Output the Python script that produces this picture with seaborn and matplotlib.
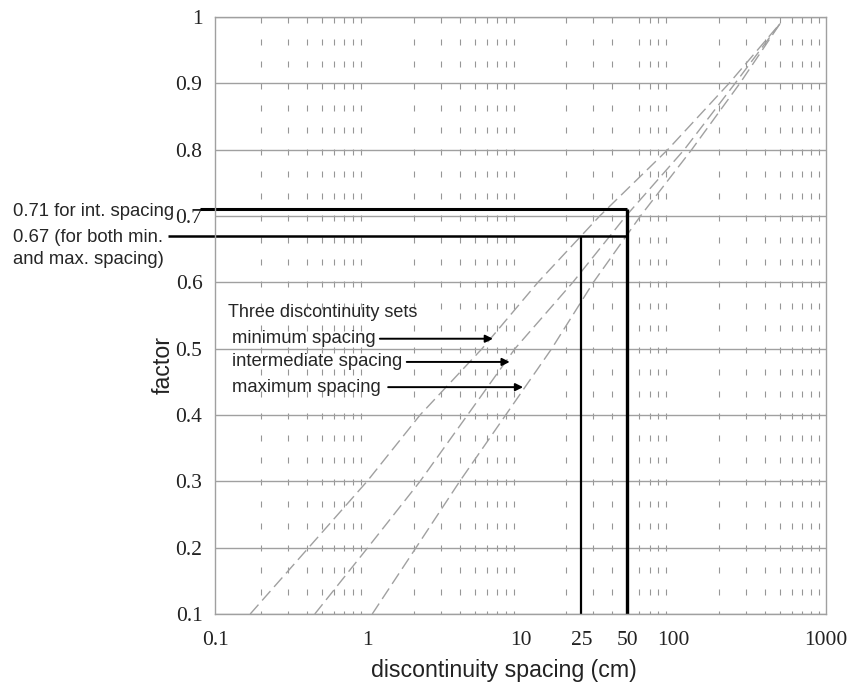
import matplotlib
matplotlib.use("Agg")
import matplotlib.pyplot as plt
from matplotlib.ticker import FixedLocator, FixedFormatter, NullFormatter, LogLocator
import pandas as pd
import seaborn as sns

# values
factor = [0.1, 0.2, 0.3, 0.4, 0.5, 0.6, 0.7, 0.8, 0.9, 0.99]
min_spacing = [0.17, 0.41, 0.99, 2.2, 5.6, 13, 33, 92, 232, 500]
int_spacing = [0.45, 1.0, 2.2, 4.5, 9.2, 22, 49, 118, 254, 500]
max_spacing = [1.07, 2.07, 4.0, 8.0, 16, 30, 61, 132, 273, 500]

xtick_vals = [0.1, 1, 10, 25, 50, 100, 1000]
xtick_labels = ["0.1", "1", "10", "25", "50", "100", "1000"]
ytick_vals = [0.1, 0.2, 0.3, 0.4, 0.5, 0.6, 0.7, 0.8, 0.9, 1.0]
ytick_labels = ["0.1", "0.2", "0.3", "0.4", "0.5", "0.6", "0.7", "0.8", "0.9", "1"]

# readings marked on the chart
read_x = [25, 50]
read_y = [0.67, 0.71]

df = pd.DataFrame({
    "spacing": min_spacing + int_spacing + max_spacing,
    "factor": factor * 3,
    "set": ["minimum"] * len(factor) + ["intermediate"] * len(factor) + ["maximum"] * len(factor),
})

sns.set_style("white")
plt.rcParams["font.family"] = ["Liberation Sans", "DejaVu Sans"]

fig = plt.figure(figsize=(8.56, 6.94), dpi=100)
ax = fig.add_axes([215 / 856, 80 / 694, 611 / 856, 597 / 694])

grey = "#a0a0a0"
sns.lineplot(data=df, x="spacing", y="factor", hue="set", style="set",
             palette=[grey, grey, grey], dashes=[(9, 4), (9, 4), (9, 4)],
             estimator=None, sort=False, linewidth=1.0, legend=False, ax=ax)

ax.set_xscale("log")
ax.set_xlim(0.1, 1000)
ax.set_ylim(0.1, 1.0)

ax.xaxis.set_major_locator(FixedLocator(xtick_vals))
ax.xaxis.set_major_formatter(FixedFormatter(xtick_labels))
ax.xaxis.set_minor_locator(LogLocator(base=10, subs=[2, 3, 4, 5, 6, 7, 8, 9]))
ax.xaxis.set_minor_formatter(NullFormatter())
ax.yaxis.set_major_locator(FixedLocator(ytick_vals))
ax.yaxis.set_major_formatter(FixedFormatter(ytick_labels))

for lab in ax.get_xticklabels() + ax.get_yticklabels():
    lab.set_family("Liberation Serif")
    lab.set_fontsize(15.5)
    lab.set_color("#222222")

ax.tick_params(axis="x", which="major", direction="out", length=7, width=1, color=grey, pad=5)
ax.tick_params(axis="x", which="minor", length=0)
ax.tick_params(axis="y", direction="out", length=6, width=1, color=grey, pad=3)

ax.grid(False)
ax.yaxis.grid(True, color=grey, linewidth=1.0)
ax.xaxis.grid(True, which="minor", color="#969696", linewidth=0.8, linestyle=(2.7, (5.4, 14.4)))
for s in ax.spines.values():
    s.set_color(grey)
    s.set_linewidth(1.0)

# reading lines
ax.plot([0.08, read_x[1]], [read_y[1], read_y[1]], color="black", lw=2.2, clip_on=False, solid_capstyle="butt")
ax.plot([0.049, read_x[1]], [read_y[0], read_y[0]], color="black", lw=1.8, clip_on=False, solid_capstyle="butt")
ax.plot([read_x[1], read_x[1]], [0.1, read_y[1]], color="black", lw=2.4, solid_capstyle="butt")
ax.plot([read_x[0], read_x[0]], [0.1, read_y[0]], color="black", lw=1.6, solid_capstyle="butt")

fig.text(13 / 856, 1 - 211 / 694, "0.71 for int. spacing", fontsize=13.3, va="center", ha="left")
fig.text(13 / 856, 1 - 237 / 694, "0.67 (for both min.", fontsize=13.3, va="center", ha="left")
fig.text(13 / 856, 1 - 260 / 694, "and max. spacing)", fontsize=13.3, va="center", ha="left")

ax.text(0.122, 0.554, "Three discontinuity sets", fontsize=13, va="center", ha="left")
ax.text(0.129, 0.515, "minimum spacing", fontsize=13.3, va="center", ha="left")
ax.text(0.129, 0.480, "intermediate spacing", fontsize=13.3, va="center", ha="left")
ax.text(0.129, 0.442, "maximum spacing", fontsize=13.3, va="center", ha="left")

arrow = dict(arrowstyle="-|>", color="black", lw=1.4, mutation_scale=11, shrinkA=0, shrinkB=0)
ax.annotate("", xy=(6.6, 0.515), xytext=(1.2, 0.515), arrowprops=arrow)
ax.annotate("", xy=(8.5, 0.480), xytext=(1.8, 0.480), arrowprops=arrow)
ax.annotate("", xy=(10.4, 0.442), xytext=(1.36, 0.442), arrowprops=arrow)

ax.set_xlabel("discontinuity spacing (cm)", fontsize=16.7, color="#222222")
ax.xaxis.set_label_coords(0.473, -0.075)
ax.set_ylabel("factor", fontsize=16.7, color="#222222")
ax.yaxis.set_label_coords(-0.066, 0.417)

fig.savefig("out.png", dpi=100)
